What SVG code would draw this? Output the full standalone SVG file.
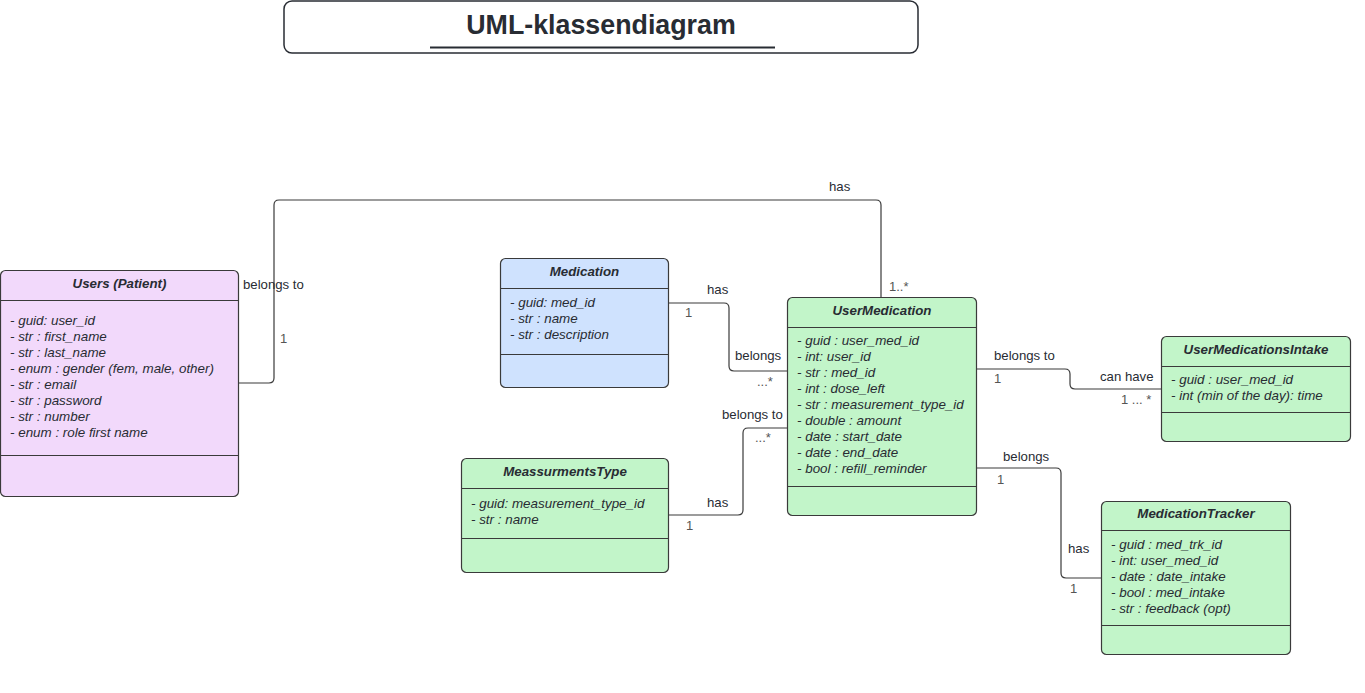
<svg xmlns="http://www.w3.org/2000/svg" width="1365" height="693" viewBox="0 0 1365 693">
<style>
.box{stroke:#3a3a3a;stroke-width:1.2}
.sep{stroke:#3a3a3a;stroke-width:1.2}
.ttl{font-family:"Liberation Sans",Arial,sans-serif;font-size:13.3px;font-weight:bold;font-style:italic;fill:#282c33;text-anchor:middle}
.att{font-family:"Liberation Sans",Arial,sans-serif;font-size:13.4px;font-style:italic;fill:#282c33}
.lbl{font-family:"Liberation Sans",Arial,sans-serif;font-size:13.2px;fill:#282c33}
.mul{font-family:"Liberation Sans",Arial,sans-serif;font-size:13px;fill:#555555}
.con{fill:none;stroke:#3a3a3a;stroke-width:1.2}
.purple{fill:#f2d9fb}.blue{fill:#cfe2fe}.green{fill:#c2f5c9}
</style>
<rect width="1365" height="693" fill="#ffffff"/>
<g id="title">
<rect x="284" y="1" width="634" height="52" rx="8" fill="#ffffff" stroke="#282c33" stroke-width="1.5"/>
<text x="601" y="34" font-family="Liberation Sans,Arial,sans-serif" font-size="26.8" font-weight="bold" fill="#282c33" text-anchor="middle">UML-klassendiagram</text>
<line x1="430" y1="47.5" x2="775" y2="47.5" stroke="#282c33" stroke-width="2"/>
</g>
<g id="connectors">
<path class="con" d="M239,383 H269 Q274,383 274,378 V205 Q274,200 279,200 H876 Q881,200 881,205 V297"/>
<path class="con" d="M669,303 H724 Q729,303 729,308 V366 Q729,371 734,371 H787"/>
<path class="con" d="M669,515 H738 Q743,515 743,510 V433 Q743,428 748,428 H787"/>
<path class="con" d="M977,369 H1065 Q1070,369 1070,374 V384 Q1070,389 1075,389 H1161"/>
<path class="con" d="M977,468 H1056 Q1061,468 1061,473 V573 Q1061,578 1066,578 H1101"/>
<text class="lbl" x="243" y="289">belongs to</text>
<text class="mul" x="280" y="343">1</text>
<text class="lbl" x="829" y="191" font-size="11">has</text>
<text class="mul" x="889" y="291">1..*</text>
<text class="lbl" x="707" y="294">has</text>
<text class="mul" x="685" y="317">1</text>
<text class="lbl" x="735" y="360">belongs</text>
<text class="mul" x="757" y="386">...*</text>
<text class="lbl" x="722" y="419">belongs to</text>
<text class="mul" x="755" y="442">...*</text>
<text class="lbl" x="707" y="507">has</text>
<text class="mul" x="686" y="530">1</text>
<text class="lbl" x="994" y="360">belongs to</text>
<text class="mul" x="994" y="383">1</text>
<text class="lbl" x="1100" y="381">can have</text>
<text class="mul" x="1121" y="404">1 ... *</text>
<text class="lbl" x="1003" y="461">belongs</text>
<text class="mul" x="997" y="484">1</text>
<text class="lbl" x="1068" y="553">has</text>
<text class="mul" x="1070" y="593">1</text>
</g>
<g id="users">
<rect class="box purple" x="0.5" y="270.5" width="238" height="226" rx="5"/>
<line class="sep" x1="0.5" y1="300.5" x2="238.5" y2="300.5"/>
<line class="sep" x1="0.5" y1="455.5" x2="238.5" y2="455.5"/>
<text class="ttl" x="119.5" y="288">Users (Patient)</text>
<text class="att" x="10" y="325">- guid: user_id</text>
<text class="att" x="10" y="341">- str : first_name</text>
<text class="att" x="10" y="357">- str : last_name</text>
<text class="att" x="10" y="373">- enum : gender (fem, male, other)</text>
<text class="att" x="10" y="389">- str : email</text>
<text class="att" x="10" y="405">- str : password</text>
<text class="att" x="10" y="421">- str : number</text>
<text class="att" x="10" y="437">- enum : role first name</text>
</g>
<g id="medication">
<rect class="box blue" x="500.5" y="258.5" width="168" height="129" rx="5"/>
<line class="sep" x1="500.5" y1="288.5" x2="668.5" y2="288.5"/>
<line class="sep" x1="500.5" y1="354.5" x2="668.5" y2="354.5"/>
<text class="ttl" x="584.5" y="276">Medication</text>
<text class="att" x="510" y="307">- guid: med_id</text>
<text class="att" x="510" y="323">- str : name</text>
<text class="att" x="510" y="339">- str : description</text>
</g>
<g id="meassurmentstype">
<rect class="box green" x="461.5" y="458.5" width="207" height="114" rx="5"/>
<line class="sep" x1="461.5" y1="488.5" x2="668.5" y2="488.5"/>
<line class="sep" x1="461.5" y1="538.5" x2="668.5" y2="538.5"/>
<text class="ttl" x="565" y="476">MeassurmentsType</text>
<text class="att" x="471" y="508">- guid: measurement_type_id</text>
<text class="att" x="471" y="524">- str : name</text>
</g>
<g id="usermedication">
<rect class="box green" x="787.5" y="297.5" width="189" height="218" rx="5"/>
<line class="sep" x1="787.5" y1="327.5" x2="976.5" y2="327.5"/>
<line class="sep" x1="787.5" y1="486.5" x2="976.5" y2="486.5"/>
<text class="ttl" x="882" y="315">UserMedication</text>
<text class="att" x="797" y="345">- guid : user_med_id</text>
<text class="att" x="797" y="361">- int: user_id</text>
<text class="att" x="797" y="377">- str : med_id</text>
<text class="att" x="797" y="393">- int : dose_left</text>
<text class="att" x="797" y="409">- str : measurement_type_id</text>
<text class="att" x="797" y="425">- double : amount</text>
<text class="att" x="797" y="441">- date : start_date</text>
<text class="att" x="797" y="457">- date : end_date</text>
<text class="att" x="797" y="473">- bool : refill_reminder</text>
</g>
<g id="usermedicationsintake">
<rect class="box green" x="1161.5" y="336.5" width="189" height="105" rx="5"/>
<line class="sep" x1="1161.5" y1="366.5" x2="1350.5" y2="366.5"/>
<line class="sep" x1="1161.5" y1="412.5" x2="1350.5" y2="412.5"/>
<text class="ttl" x="1256" y="354">UserMedicationsIntake</text>
<text class="att" x="1171" y="384">- guid : user_med_id</text>
<text class="att" x="1171" y="400">- int (min of the day): time</text>
</g>
<g id="medicationtracker">
<rect class="box green" x="1101.5" y="501.5" width="189" height="153" rx="5"/>
<line class="sep" x1="1101.5" y1="530.5" x2="1290.5" y2="530.5"/>
<line class="sep" x1="1101.5" y1="625.5" x2="1290.5" y2="625.5"/>
<text class="ttl" x="1196" y="518">MedicationTracker</text>
<text class="att" x="1111" y="549">- guid : med_trk_id</text>
<text class="att" x="1111" y="565">- int: user_med_id</text>
<text class="att" x="1111" y="581">- date : date_intake</text>
<text class="att" x="1111" y="597">- bool : med_intake</text>
<text class="att" x="1111" y="613">- str : feedback (opt)</text>
</g>
</svg>
